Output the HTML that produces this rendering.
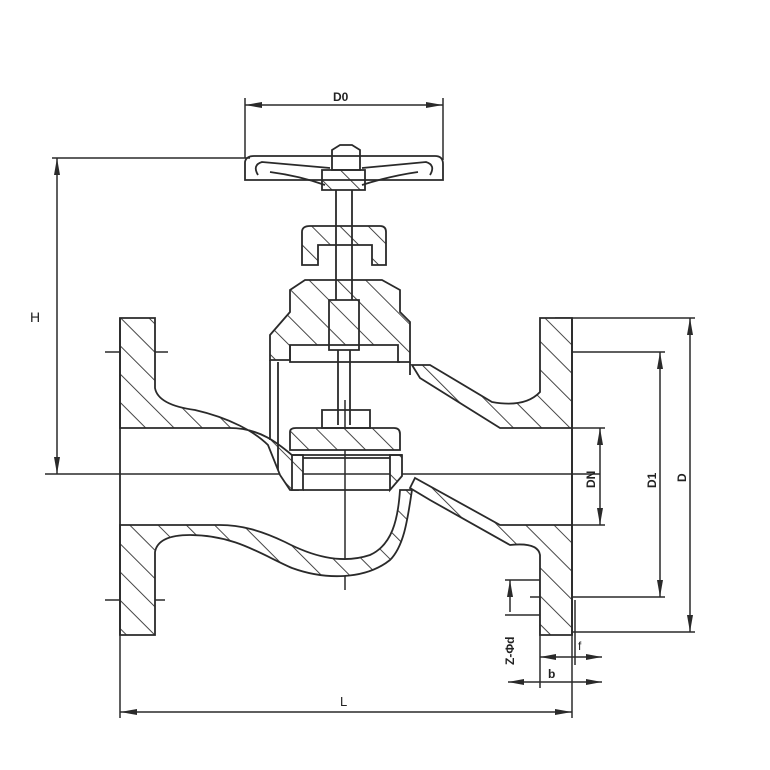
<!DOCTYPE html>
<html><head><style>html,body{margin:0;padding:0;background:#fff}svg{display:block}</style></head>
<body>
<svg width="770" height="770" viewBox="0 0 770 770" xmlns="http://www.w3.org/2000/svg" font-family="'Liberation Sans',sans-serif">
<defs>
<pattern id="h" width="20" height="20" patternUnits="userSpaceOnUse" patternTransform="rotate(-45)">
<rect width="20" height="20" fill="#fff"/><line x1="0" y1="0" x2="0" y2="20" stroke="#333" stroke-width="1.8"/>
</pattern>
</defs>
<g stroke="#2a2a2a" stroke-width="1.5" fill="none">
<line x1="245" y1="98" x2="245" y2="158"/><line x1="443" y1="98" x2="443" y2="160"/>
<line x1="245" y1="105" x2="443" y2="105"/>
<line x1="52" y1="158" x2="250" y2="158"/>
<line x1="45" y1="474" x2="600" y2="474"/>
<line x1="57" y1="158" x2="57" y2="474"/>
<line x1="572" y1="428" x2="605" y2="428"/><line x1="572" y1="525" x2="605" y2="525"/>
<line x1="600" y1="428" x2="600" y2="525"/>
<line x1="540" y1="352" x2="665" y2="352"/><line x1="530" y1="597" x2="665" y2="597"/>
<line x1="660" y1="352" x2="660" y2="597"/>
<line x1="555" y1="318" x2="695" y2="318"/><line x1="572" y1="632" x2="695" y2="632"/>
<line x1="690" y1="318" x2="690" y2="632"/>
<line x1="120" y1="635" x2="120" y2="718"/><line x1="572" y1="600" x2="572" y2="718"/>
<line x1="120" y1="712" x2="572" y2="712"/>
<line x1="510" y1="580" x2="510" y2="612"/>
<line x1="505" y1="580" x2="545" y2="580"/><line x1="505" y1="615" x2="545" y2="615"/>
<line x1="540" y1="657" x2="602" y2="657"/><line x1="508" y1="682" x2="602" y2="682"/>
<line x1="540" y1="580" x2="540" y2="688"/><line x1="575" y1="600" x2="575" y2="665"/>
<line x1="105" y1="352" x2="168" y2="352"/><line x1="105" y1="600" x2="165" y2="600"/>
<line x1="345" y1="400" x2="345" y2="590"/>
</g>
<g fill="#2a2a2a">
<polygon points="245,105 262,102 262,108"/><polygon points="443,105 426,102 426,108"/>
<polygon points="57,158 54,175 60,175"/><polygon points="57,474 54,457 60,457"/>
<polygon points="600,428 597,445 603,445"/><polygon points="600,525 597,508 603,508"/>
<polygon points="660,352 657,369 663,369"/><polygon points="660,597 657,580 663,580"/>
<polygon points="690,318 687,335 693,335"/><polygon points="690,632 687,615 693,615"/>
<polygon points="120,712 137,709 137,715"/><polygon points="572,712 555,709 555,715"/>
<polygon points="510,580 507,597 513,597"/>
<polygon points="540,657 556,654 556,660"/><polygon points="602,657 586,654 586,660"/>
<polygon points="508,682 524,679 524,685"/><polygon points="602,682 586,679 586,685"/>
</g>
<g stroke="#2a2a2a" stroke-width="1.8" fill="url(#h)">
<path d="M120,318 H155 V388 Q158,405 195,410 C230,418 255,432 268,445 L280,475 L290,490 L298,490 L298,460 C285,450 265,428 230,428 H120 Z"/>
<path d="M120,635 H155 V552 Q158,535 190,535 C235,535 262,555 292,568 C325,580 365,580 390,560 C405,545 408,515 412,490 L400,490 C398,520 392,545 370,555 C340,565 310,555 285,542 C260,530 240,525 220,525 H120 Z"/>
<path d="M540,318 H572 V428 H500 L420,378 L412,365 L430,365 L492,402 Q525,408 540,392 Z"/>
<path d="M572,428 V635 H540 V555 Q538,542 510,545 L430,500 L410,488 L415,478 L500,525 H572"/>
<path d="M270,360 V335 L290,312 V290 L305,280 H382 L400,290 V312 L410,322 V362 H398 V345 L290,345 V360 Z"/>
<path d="M302,232 Q302,226 310,226 H380 Q386,226 386,232 V265 H372 V245 H318 V265 H302 Z"/>
<path d="M290,432 Q290,428 296,428 H394 Q400,428 400,434 V450 H290 Z"/>
<path d="M292,455 H303 V490 H292 Z"/><path d="M390,455 H402 V476 L390,490 Z"/>
<path d="M322,170 H365 V190 H322 Z"/>
</g>
<g stroke="#2a2a2a" stroke-width="1.8" fill="none">
<path d="M245,180 V162 Q246,156 254,156 H435 Q443,156 443,164 V180 Z"/>
<path d="M258,175 Q252,165 262,162 L330,168"/><path d="M430,175 Q436,165 426,162 L362,168"/>
<path d="M270,172 Q300,176 325,185"/><path d="M418,172 Q390,176 362,185"/>
<path d="M332,150 L340,145 H352 L360,150 V170 H332 Z"/>
<path d="M336,190 V300 M352,190 V300"/>
<path d="M329,300 H359 V350 H329 Z"/>
<path d="M338,350 V425 M350,350 V425"/>
<path d="M322,410 H370 V428 H322 Z"/>
<path d="M270,360 V440 M278,362 V470 M410,362 V375"/>
<path d="M290,345 V362 H400"/>
<path d="M303,458 H390 M303,490 H390 M292,455 H402"/>
<line x1="120" y1="318" x2="120" y2="635"/><line x1="572" y1="318" x2="572" y2="635"/>
</g>
<g fill="#222" font-size="12">
<text x="30" y="322" font-size="14">H</text>
<text x="333" y="101" font-weight="bold">D0</text>
<text x="340" y="706" font-size="13">L</text>
<text transform="translate(595,488) rotate(-90)" font-weight="bold">DN</text>
<text transform="translate(656,488) rotate(-90)" font-weight="bold">D1</text>
<text transform="translate(686,482) rotate(-90)" font-weight="bold">D</text>
<text transform="translate(514,665) rotate(-90)" font-weight="bold">Z-Φd</text>
<text x="578" y="650">f</text>
<text x="548" y="678" font-weight="bold">b</text>
</g>
</svg>
</body></html>
